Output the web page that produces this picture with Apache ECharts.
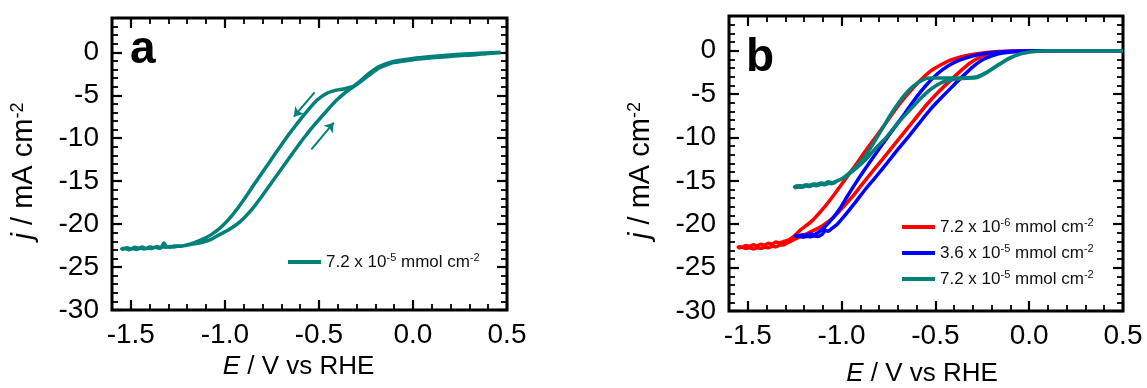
<!DOCTYPE html>
<html>
<head>
<meta charset="utf-8">
<script src="https://cdn.jsdelivr.net/npm/echarts@6/dist/echarts.min.js"></script>
<style>
  html, body { margin: 0; padding: 0; background: #fff; }
  #chart { width: 1147px; height: 388px; }
</style>
</head>
<body>
<div id="chart"></div>
<script>
// Axis extents and tick labels
const X_MIN = -1.6, X_MAX = 0.5;
const Y_MIN = -30, Y_MAX = 4;
const xMajorTicks = [-1.5, -1.0, -0.5, 0.0, 0.5];
const yMajorTicks = [-30, -25, -20, -15, -10, -5, 0];

// Panel a: 7.2e-5 mmol cm-2, sweep toward negative potential then back
const aSweepNeg = [[0.466,0],[0.38,-0.08],[0.276,-0.19],[0.18,-0.33],[0.086,-0.5],[0.0,-0.7],[-0.104,-1.05],[-0.18,-1.66],[-0.237,-2.52],[-0.284,-3.41],[-0.322,-3.99],[-0.37,-4.26],[-0.417,-4.45],[-0.465,-4.84],[-0.512,-5.61],[-0.56,-6.78],[-0.617,-8.32],[-0.673,-9.95],[-0.73,-11.73],[-0.787,-13.55],[-0.844,-15.37],[-0.901,-17.23],[-0.958,-18.89],[-1.015,-20.25],[-1.072,-21.22],[-1.129,-21.87],[-1.186,-22.34],[-1.243,-22.57],[-1.27,-22.55],[-1.29,-22.7],[-1.31,-22.6],[-1.325,-22.2],[-1.34,-22.8],[-1.36,-22.6],[-1.38,-22.75],[-1.40,-22.65],[-1.42,-22.85],[-1.44,-22.65],[-1.46,-22.8],[-1.48,-22.7],[-1.50,-22.9],[-1.52,-22.75],[-1.54,-22.85],[-1.548,-22.8]];
const aSweepPos = [[-1.548,-22.95],[-1.53,-22.85],[-1.51,-23.0],[-1.49,-22.85],[-1.47,-22.95],[-1.45,-22.8],[-1.43,-22.9],[-1.41,-22.8],[-1.39,-22.85],[-1.37,-22.7],[-1.35,-22.8],[-1.33,-22.65],[-1.31,-22.7],[-1.29,-22.6],[-1.27,-22.65],[-1.25,-22.55],[-1.23,-22.55],[-1.205,-22.45],[-1.16,-22.3],[-1.11,-22.07],[-1.07,-21.75],[-1.034,-21.29],[-0.977,-20.63],[-0.92,-19.74],[-0.863,-18.47],[-0.806,-16.84],[-0.749,-15.1],[-0.692,-13.36],[-0.635,-11.61],[-0.579,-9.95],[-0.522,-8.4],[-0.465,-6.97],[-0.408,-5.61],[-0.351,-4.53],[-0.294,-3.68],[-0.237,-2.71],[-0.18,-1.82],[-0.104,-1.2],[0.0,-0.85],[0.09,-0.66],[0.181,-0.5],[0.26,-0.38],[0.333,-0.27],[0.4,-0.12],[0.466,-0.04]];
// Scan-direction arrows in panel a: [tail, head]
const aArrows = [[[-0.523,-4.65],[-0.633,-7.49]], [[-0.54,-11.29],[-0.421,-8.19]]];

// Panel b: three loadings
const bRedNeg = [[0.5,0],[0.106,0],[-0.086,-0.04],[-0.182,-0.12],[-0.278,-0.35],[-0.355,-0.65],[-0.413,-1.04],[-0.47,-1.62],[-0.528,-2.38],[-0.586,-3.54],[-0.643,-4.88],[-0.701,-6.42],[-0.758,-8.15],[-0.816,-9.88],[-0.874,-11.6],[-0.931,-13.35],[-0.989,-15.08],[-1.047,-16.8],[-1.104,-18.35],[-1.162,-19.7],[-1.219,-20.65],[-1.25,-21.3],[-1.28,-21.8],[-1.31,-22.0],[-1.33,-22.15],[-1.35,-22.05],[-1.37,-22.3],[-1.39,-22.2],[-1.41,-22.4],[-1.43,-22.3],[-1.45,-22.5],[-1.47,-22.35],[-1.49,-22.55],[-1.51,-22.45],[-1.53,-22.65],[-1.55,-22.55]];
const bRedPos = [[-1.55,-22.75],[-1.53,-22.65],[-1.51,-22.8],[-1.49,-22.7],[-1.47,-22.85],[-1.45,-22.7],[-1.43,-22.8],[-1.41,-22.65],[-1.39,-22.7],[-1.37,-22.55],[-1.35,-22.6],[-1.33,-22.4],[-1.31,-22.4],[-1.29,-22.15],[-1.27,-21.95],[-1.238,-21.6],[-1.2,-21.25],[-1.162,-20.85],[-1.104,-20.2],[-1.047,-19.3],[-0.989,-17.96],[-0.941,-16.8],[-0.893,-15.46],[-0.835,-13.9],[-0.778,-12.4],[-0.72,-10.85],[-0.662,-9.3],[-0.605,-7.77],[-0.547,-6.23],[-0.489,-4.88],[-0.431,-3.65],[-0.374,-2.5],[-0.316,-1.42],[-0.259,-0.73],[-0.182,-0.27],[-0.086,-0.08],[0.106,0],[0.5,0]];
const bBlueNeg = [[0.5,0],[0.01,0],[-0.124,-0.08],[-0.22,-0.27],[-0.297,-0.58],[-0.374,-1.12],[-0.431,-1.73],[-0.489,-2.65],[-0.547,-3.92],[-0.605,-5.46],[-0.662,-7.2],[-0.72,-8.92],[-0.778,-10.65],[-0.835,-12.4],[-0.883,-13.9],[-0.931,-15.46],[-0.97,-16.8],[-1.008,-18.15],[-1.047,-19.3],[-1.085,-20.2],[-1.11,-20.7],[-1.13,-21.0],[-1.15,-21.2],[-1.17,-21.1],[-1.19,-21.3],[-1.21,-21.2],[-1.23,-21.35],[-1.245,-21.25]];
const bBluePos = [[-1.245,-21.45],[-1.225,-21.35],[-1.205,-21.5],[-1.185,-21.4],[-1.165,-21.45],[-1.145,-21.35],[-1.125,-21.4],[-1.105,-21.2],[-1.085,-20.7],[-1.07,-20.8],[-1.05,-20.45],[-1.027,-20.1],[-0.979,-18.9],[-0.931,-17.6],[-0.874,-16.0],[-0.816,-14.5],[-0.758,-12.96],[-0.701,-11.4],[-0.643,-9.9],[-0.586,-8.35],[-0.528,-6.8],[-0.47,-5.46],[-0.413,-4.2],[-0.355,-2.96],[-0.297,-1.8],[-0.24,-0.96],[-0.163,-0.35],[-0.067,-0.08],[0.106,0],[0.5,0]];
const bTealNeg = [[0.5,0],[0.1,0],[0.03,-0.1],[-0.048,-0.35],[-0.105,-0.85],[-0.163,-1.6],[-0.22,-2.4],[-0.278,-3.0],[-0.33,-3.12],[-0.4,-3.15],[-0.47,-3.15],[-0.51,-3.15],[-0.547,-3.19],[-0.595,-3.73],[-0.643,-4.58],[-0.691,-5.85],[-0.739,-7.38],[-0.787,-9.12],[-0.835,-10.85],[-0.883,-12.38],[-0.931,-13.54],[-0.97,-14.3],[-1.008,-14.88],[-1.03,-15.05],[-1.05,-15.2],[-1.07,-15.1],[-1.09,-15.3],[-1.11,-15.25],[-1.13,-15.4],[-1.15,-15.35],[-1.17,-15.5],[-1.19,-15.45],[-1.21,-15.6],[-1.23,-15.55],[-1.25,-15.65]];
const bTealPos = [[-1.25,-15.8],[-1.23,-15.7],[-1.21,-15.75],[-1.19,-15.6],[-1.17,-15.65],[-1.15,-15.5],[-1.13,-15.55],[-1.11,-15.4],[-1.09,-15.45],[-1.07,-15.3],[-1.047,-15.3],[-1.02,-14.95],[-0.989,-14.7],[-0.931,-13.7],[-0.873,-12.6],[-0.816,-11.2],[-0.758,-9.9],[-0.7,-8.35],[-0.643,-7.0],[-0.585,-5.65],[-0.528,-4.5],[-0.47,-3.7],[-0.412,-3.35],[-0.355,-3.2],[-0.278,-3.1],[-0.22,-2.45],[-0.163,-1.65],[-0.105,-0.9],[-0.048,-0.38],[0.03,-0.1],[0.1,0],[0.5,0]];

// Legend texts: [mantissa, exponent]
const loadings = {
  aTeal: ['7.2 x 10', '-5'],
  bRed:  ['7.2 x 10', '-6'],
  bBlue: ['3.6 x 10', '-5'],
  bTeal: ['7.2 x 10', '-5']
};

const TEAL = '#00807A', RED = '#FF0000', BLUE = '#0000FF';
const FONT = '"Liberation Sans", Arial, Helvetica, sans-serif';

const richText = {
  n: { fontSize: 17, fontFamily: FONT, color: '#111', lineHeight: 20 },
  s: { fontSize: 11, fontFamily: FONT, color: '#111', lineHeight: 12, verticalAlign: 'top' }
};
const legendLabel = name => '{n|' + loadings[name][0] + '}{s|' + loadings[name][1] + '}{n| mmol cm}{s|-2}';

function titleRich(size) {
  return {
    i: { fontSize: size, fontFamily: FONT, fontStyle: 'italic', color: '#000' },
    n: { fontSize: size, fontFamily: FONT, color: '#000' },
    s: { fontSize: Math.round(size * 0.62), fontFamily: FONT, color: '#000', verticalAlign: 'top', lineHeight: 14 }
  };
}

function axesFor(gridIndex, xName, yName) {
  const tickMajor = { show: true, inside: true, length: 10, lineStyle: { color: '#000', width: 2.2 } };
  const tickMinor = { show: true, inside: true, length: 6, lineStyle: { color: '#000', width: 1.8 } };
  const label = { fontSize: 28, fontFamily: FONT, color: '#000' };
  const base = { type: 'value', gridIndex, axisLine: { show: false, onZero: false }, splitLine: { show: false }, axisPointer: { show: false } };
  const xs = [
    Object.assign({}, base, {
      position: 'bottom', min: X_MIN, max: X_MAX,
      axisTick: Object.assign({ customValues: xMajorTicks }, tickMajor),
      axisLabel: Object.assign({ customValues: xMajorTicks, margin: 11, formatter: v => Number(v).toFixed(1) }, label),
      name: '{i|E}{n| / V vs RHE}', nameLocation: 'middle', nameGap: xName.gap,
      nameTextStyle: { rich: titleRich(26), padding: xName.padding }
    }),
    Object.assign({}, base, { position: 'bottom', min: X_MIN, max: X_MAX, interval: 0.1, axisTick: tickMinor, axisLabel: { show: false } }),
    Object.assign({}, base, { position: 'top', min: X_MIN, max: X_MAX, axisTick: Object.assign({ customValues: xMajorTicks }, tickMajor), axisLabel: { show: false } }),
    Object.assign({}, base, { position: 'top', min: X_MIN, max: X_MAX, interval: 0.1, axisTick: tickMinor, axisLabel: { show: false } })
  ];
  const ys = [
    Object.assign({}, base, {
      position: 'left', min: Y_MIN, max: Y_MAX,
      axisTick: Object.assign({ customValues: yMajorTicks }, tickMajor),
      axisLabel: Object.assign({ customValues: yMajorTicks, margin: 13, formatter: v => String(v) }, label),
      name: '{i|j}{n| / mA cm}{s|-2}', nameLocation: 'middle', nameGap: yName.gap,
      nameTextStyle: { rich: titleRich(29), padding: yName.padding }
    }),
    Object.assign({}, base, { position: 'left', min: Y_MIN, max: Y_MAX, interval: 1, axisTick: tickMinor, axisLabel: { show: false } }),
    Object.assign({}, base, { position: 'right', min: Y_MIN, max: Y_MAX, axisTick: Object.assign({ customValues: yMajorTicks }, tickMajor), axisLabel: { show: false } }),
    Object.assign({}, base, { position: 'right', min: Y_MIN, max: Y_MAX, interval: 1, axisTick: tickMinor, axisLabel: { show: false } })
  ];
  return { xs, ys };
}

const axA = axesFor(0, { gap: 42, padding: [0, 22, 0, 0] }, { gap: 74, padding: [0, 14, 0, 0] });
const axB = axesFor(1, { gap: 50, padding: [0, 8, 0, 0] }, { gap: 74, padding: [0, 14, 0, 0] });

function curve(name, data, color, axisIndex, extra) {
  return Object.assign({
    type: 'line', name, data, xAxisIndex: axisIndex, yAxisIndex: axisIndex,
    showSymbol: false, symbol: 'none', smooth: 0.15, clip: true,
    lineStyle: { color, width: 3.5 }, itemStyle: { color },
    emphasis: { disabled: true }, animation: false
  }, extra || {});
}

function legendAt(name, left, top) {
  return {
    data: [name], left, top, padding: 0, icon: 'rect', itemWidth: 33, itemHeight: 4,
    selectedMode: false, formatter: legendLabel,
    textStyle: { fontSize: 17, fontFamily: FONT, color: '#111', rich: richText }
  };
}

const option = {
  backgroundColor: '#fff',
  animation: false,
  grid: [
    { left: 112, top: 18, width: 395, height: 292, show: true, borderColor: '#000', borderWidth: 3, backgroundColor: 'transparent', containLabel: false, outerBoundsMode: 'none' },
    { left: 729, top: 16, width: 394, height: 295, show: true, borderColor: '#000', borderWidth: 3, backgroundColor: 'transparent', containLabel: false, outerBoundsMode: 'none' }
  ],
  xAxis: axA.xs.concat(axB.xs),
  yAxis: axA.ys.concat(axB.ys),
  legend: [
    legendAt('aTeal', 288, 252),
    legendAt('bRed', 902, 217),
    legendAt('bBlue', 902, 243),
    legendAt('bTeal', 902, 269)
  ],
  graphic: [
    { type: 'text', x: 130, y: 50, style: { text: 'a', font: 'bold 46px ' + FONT, fill: '#000', verticalAlign: 'middle', align: 'left' } },
    { type: 'text', x: 746, y: 58, style: { text: 'b', font: 'bold 46px ' + FONT, fill: '#000', verticalAlign: 'middle', align: 'left' } }
  ],
  series: [
    curve('aTeal', aSweepNeg.concat(aSweepPos), TEAL, 0, {
      markLine: {
        silent: true, animation: false, symbol: ['none', 'arrow'], symbolSize: 9,
        label: { show: false }, lineStyle: { type: 'solid', width: 2, color: TEAL },
        data: aArrows.map(([t, h]) => [{ coord: t }, { coord: h }])
      }
    }),
    curve('bRed', bRedNeg.concat(bRedPos), RED, 4),
    curve('bBlue', bBlueNeg.concat(bBluePos), BLUE, 4),
    curve('bTeal', bTealNeg.concat(bTealPos), TEAL, 4)
  ]
};

const chart = echarts.init(document.getElementById('chart'), null, { renderer: 'canvas' });
chart.setOption(option);
</script>
</body>
</html>
